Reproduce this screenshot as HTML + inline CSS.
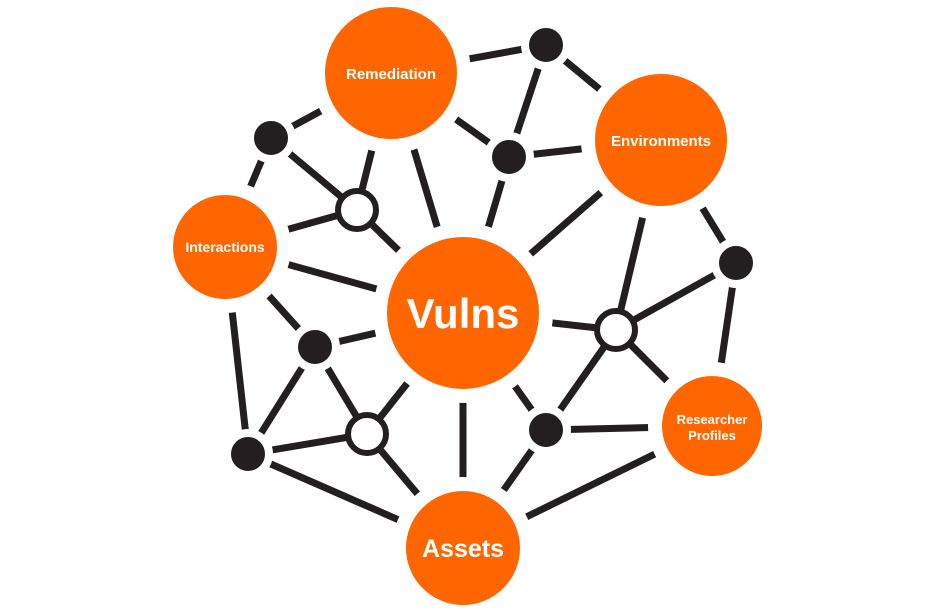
<!DOCTYPE html>
<html><head><style>body{margin:0;background:#fff}</style></head><body>
<svg width="936" height="610" xmlns="http://www.w3.org/2000/svg" font-family="Liberation Sans, sans-serif" font-weight="bold">
<g stroke="#231f20" stroke-width="7">
<line x1="391" y1="73" x2="546" y2="45"/><line x1="391" y1="73" x2="271" y2="138"/><line x1="391" y1="73" x2="509" y2="157"/><line x1="391" y1="73" x2="357" y2="210"/><line x1="391" y1="73" x2="463" y2="313"/>
<line x1="546" y1="45" x2="509" y2="157"/><line x1="546" y1="45" x2="661" y2="140"/>
<line x1="509" y1="157" x2="661" y2="140"/><line x1="509" y1="157" x2="463" y2="313"/>
<line x1="271" y1="138" x2="357" y2="210"/><line x1="271" y1="138" x2="225" y2="247"/>
<line x1="357" y1="210" x2="225" y2="247"/><line x1="357" y1="210" x2="463" y2="313"/>
<line x1="225" y1="247" x2="463" y2="313"/><line x1="225" y1="247" x2="315" y2="347"/><line x1="225" y1="247" x2="248" y2="454"/>
<line x1="661" y1="140" x2="463" y2="313"/><line x1="661" y1="140" x2="736" y2="263"/><line x1="661" y1="140" x2="616" y2="330"/>
<line x1="736" y1="263" x2="616" y2="330"/><line x1="736" y1="263" x2="712" y2="426"/>
<line x1="616" y1="330" x2="463" y2="313"/><line x1="616" y1="330" x2="712" y2="426"/><line x1="616" y1="330" x2="546" y2="430"/>
<line x1="463" y1="313" x2="315" y2="347"/><line x1="463" y1="313" x2="367" y2="434"/><line x1="463" y1="313" x2="463" y2="548"/><line x1="463" y1="313" x2="546" y2="430"/>
<line x1="315" y1="347" x2="248" y2="454"/><line x1="315" y1="347" x2="367" y2="434"/>
<line x1="248" y1="454" x2="367" y2="434"/><line x1="248" y1="454" x2="463" y2="548"/>
<line x1="367" y1="434" x2="463" y2="548"/>
<line x1="546" y1="430" x2="712" y2="426"/><line x1="546" y1="430" x2="463" y2="548"/>
<line x1="712" y1="426" x2="463" y2="548"/>
</g>
<g fill="#231f20" stroke="#fff" stroke-width="8">
<circle cx="546" cy="45" r="21"/><circle cx="271" cy="138" r="21"/><circle cx="509" cy="157" r="21"/><circle cx="736" cy="263" r="21"/><circle cx="315" cy="347" r="21"/><circle cx="248" cy="454" r="21"/><circle cx="546" cy="430" r="21"/>
</g>
<g fill="#fff" stroke="#231f20" stroke-width="6">
<circle cx="357" cy="210" r="19"/><circle cx="616" cy="330" r="19"/><circle cx="367" cy="434" r="19"/>
</g>
<g fill="#ff6600" stroke="#fff" stroke-width="14">
<circle cx="463" cy="313" r="83"/><circle cx="391" cy="73" r="73"/><circle cx="661" cy="140" r="73"/><circle cx="225" cy="247" r="59"/><circle cx="712" cy="426" r="57"/><circle cx="463" cy="548" r="64"/>
</g>
<g fill="#fff" text-anchor="middle">
<text x="463" y="328" font-size="42">Vulns</text>
<text x="391" y="79" font-size="15">Remediation</text>
<text x="661" y="146" font-size="15">Environments</text>
<text x="225" y="252" font-size="14">Interactions</text>
<text x="712" y="424" font-size="13">Researcher</text>
<text x="712" y="440" font-size="13">Profiles</text>
<text x="463" y="557" font-size="25">Assets</text>
</g>
</svg>
</body></html>
